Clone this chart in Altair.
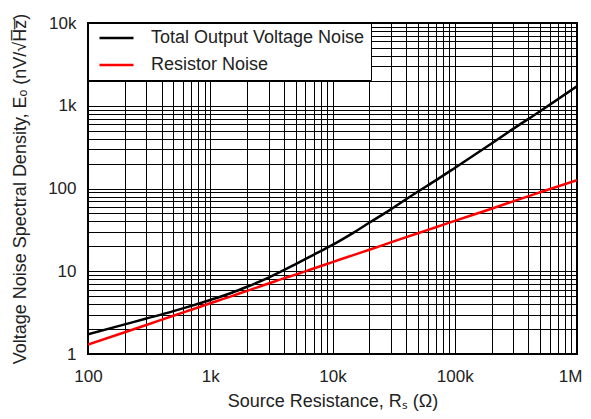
import altair as alt
import pandas as pd

# Source resistance (ohms) sample points
rs = [100, 200, 300, 500, 700, 1000, 1500, 2000, 3000, 4000, 5000, 7000,
      10000, 15000, 20000, 30000, 50000, 70000, 100000, 200000, 300000,
      500000, 1000000]
# Total output voltage noise (nV/rtHz)
total_noise = [1.73, 2.28, 2.68, 3.3, 3.82, 4.5, 5.5, 6.5, 8.4, 10.3, 12.2, 15.8,
               20.8, 29.5, 38.5, 56, 92, 125.5, 177, 350, 525,
               860, 1720]
# Resistor noise (nV/rtHz)
resistor_noise = [1.3, 1.83, 2.24, 2.9, 3.43, 4.1, 5.0, 5.8, 7.1, 8.2, 9.1, 10.8,
                  12.9, 15.8, 18.2, 22.3, 28.8, 34, 40.6, 57, 70,
                  90, 126]

series_names = ["Total Output Voltage Noise", "Resistor Noise"]
series_colors = ["#000000", "#ff0000"]

x_ticks = [m * 10 ** e for e in range(2, 6) for m in range(1, 10)] + [1000000]
y_ticks = [m * 10 ** e for e in range(0, 4) for m in range(1, 10)] + [10000]

rows = []
for r, t, n in zip(rs, total_noise, resistor_noise):
    rows.append({"rs": r, "val": t, "series": series_names[0]})
    rows.append({"rs": r, "val": n, "series": series_names[1]})
df = pd.DataFrame(rows)

FONT = "Liberation Sans"

x_label_expr = ("datum.value == 100 ? '100' : datum.value == 1000 ? '1k' : "
                "datum.value == 10000 ? '10k' : datum.value == 100000 ? '100k' : "
                "datum.value == 1000000 ? '1M' : ''")
y_label_expr = ("datum.value == 1 ? '1' : datum.value == 10 ? '10' : "
                "datum.value == 100 ? '100' : datum.value == 1000 ? '1k' : "
                "datum.value == 10000 ? '10k' : ''")

chart = alt.Chart(df).mark_line(strokeWidth=2.5, clip=True, interpolate="monotone").encode(
    x=alt.X("rs:Q",
            scale=alt.Scale(type="log", domain=[100, 1000000], nice=False),
            axis=alt.Axis(values=x_ticks, labelExpr=x_label_expr,
                          title="Source Resistance, Rₛ (Ω)",
                          labelPadding=14, titlePadding=8,
                          labelOffset={"condition": {"test": "datum.value == 1000000",
                                                     "value": -7},
                                       "value": 0},
                          labelFlush=False, labelOverlap=False)),
    y=alt.Y("val:Q",
            scale=alt.Scale(type="log", domain=[1, 10000], nice=False),
            axis=alt.Axis(values=y_ticks, labelExpr=y_label_expr,
                          title="Voltage Noise Spectral Density, Eₒ (nV/√H̅z̅)",
                          labelPadding=12, titlePadding=18,
                          labelFlush=False, labelOverlap=False)),
    color=alt.Color("series:N",
                    scale=alt.Scale(domain=series_names, range=series_colors),
                    sort=series_names,
                    legend=alt.Legend(title=None, orient="top-left", offset=0,
                                      fillColor="white", strokeColor="black",
                                      padding=6, symbolOffset=4,
                                      symbolType="stroke", symbolStrokeWidth=2.5,
                                      symbolSize=1156, labelOffset=16,
                                      clipHeight=18,
                                      labelFontSize=18, labelFont=FONT,
                                      labelColor="#222", rowPadding=9,
                                      labelLimit=400)),
).properties(
    width=489, height=331,
    autosize=alt.AutoSizeParams(type="none"),
    padding={"left": 80, "top": 15, "right": 6, "bottom": 57},
).configure_view(
    stroke="black", strokeWidth=2
).configure_axis(
    grid=True, gridColor="black", gridWidth=1, gridOpacity=1,
    ticks=False, domain=False,
    labelFont=FONT, labelFontSize=17, labelColor="#222",
    titleFont=FONT, titleFontSize=18, titleColor="#222", titleFontWeight="normal",
)

chart.save("out.html", embed_options={"renderer": "svg", "actions": False})
